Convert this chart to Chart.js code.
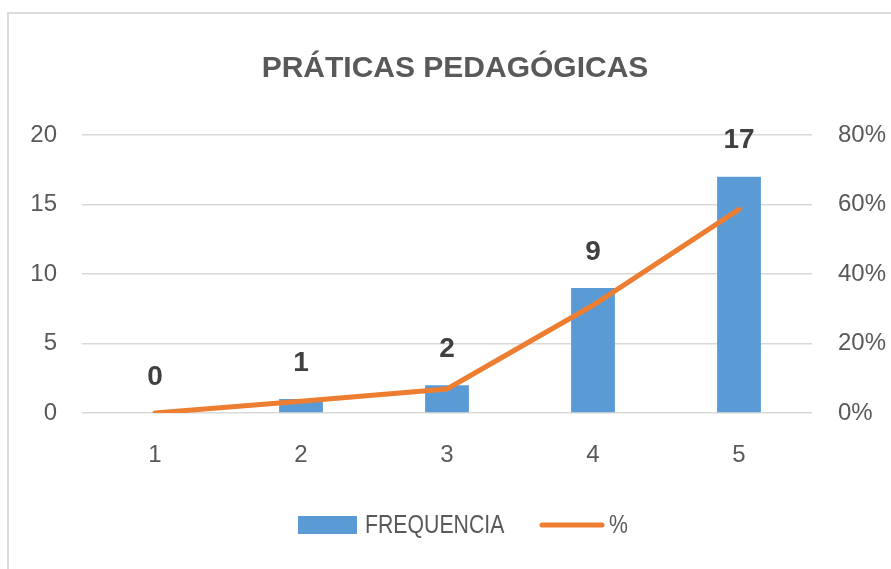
<!DOCTYPE html>
<html><head><meta charset="utf-8">
<script src="https://cdn.jsdelivr.net/npm/chart.js@4/dist/chart.umd.min.js"></script>
<style>
html,body{margin:0;padding:0;background:#fff;width:891px;height:569px;overflow:hidden;}
#frame{position:absolute;left:7px;top:12px;width:900px;height:600px;border-left:2px solid #dcdcdc;border-top:2px solid #dcdcdc;}
#wrap{position:absolute;left:0;top:0;width:891px;height:569px;}
</style></head>
<body>
<div id="frame"></div>
<div id="wrap"><canvas id="c" width="891" height="569"></canvas></div>
<script>
const categories = ['1','2','3','4','5'];
const frequencia = [0, 1, 2, 9, 17];
const percent = [0, 0.034, 0.069, 0.31, 0.586];
const titleText = 'PRÁTICAS PEDAGÓGICAS';
const seriesNames = ['FREQUENCIA', '%'];

const BLUE = '#5B9BD5', ORANGE = '#ED7D31', TXT = '#595959';
const FONT = "'Liberation Sans', Arial, sans-serif";

const extras = {
  id: 'extras',
  afterDatasetsDraw(chart) {
    const ctx = chart.ctx;
    const meta = chart.getDatasetMeta(1);
    ctx.save();
    ctx.fillStyle = '#404040';
    ctx.font = 'bold 28px ' + FONT;
    ctx.textAlign = 'center';
    ctx.textBaseline = 'middle';
    meta.data.forEach((el, i) => {
      ctx.fillText(String(frequencia[i]), el.x, el.y - 36);
    });
    ctx.restore();
  },
  afterDraw(chart) {
    const ctx = chart.ctx;
    ctx.save();
    // title
    ctx.fillStyle = TXT;
    ctx.font = 'bold 30px ' + FONT;
    ctx.textAlign = 'center';
    ctx.textBaseline = 'middle';
    ctx.fillText(titleText, 455, 69);
    // legend
    ctx.fillStyle = BLUE;
    ctx.fillRect(298, 516, 59, 18);
    ctx.fillStyle = TXT;
    ctx.font = '25px ' + FONT;
    ctx.textAlign = 'left';
    ctx.save();
    ctx.translate(365, 526);
    ctx.scale(0.85, 1);
    ctx.fillText(seriesNames[0], 0, 0);
    ctx.restore();
    ctx.strokeStyle = ORANGE;
    ctx.lineWidth = 5;
    ctx.lineCap = 'round';
    ctx.beginPath(); ctx.moveTo(542, 525); ctx.lineTo(602, 525); ctx.stroke();
    ctx.save();
    ctx.translate(609, 526);
    ctx.scale(0.85, 1);
    ctx.fillText(seriesNames[1], 0, 0);
    ctx.restore();
    ctx.restore();
  }
};

new Chart(document.getElementById('c'), {
  data: {
    labels: categories,
    datasets: [
      { type: 'line', label: seriesNames[1], data: percent, yAxisID: 'y2', borderColor: ORANGE, borderWidth: 5, pointRadius: 0, tension: 0, order: 0, borderCapStyle: 'round' },
      { type: 'bar', label: seriesNames[0], data: frequencia, yAxisID: 'y', backgroundColor: BLUE, barPercentage: 0.6, categoryPercentage: 0.5, order: 1 }
    ]
  },
  options: {
    responsive: false,
    animation: false,
    devicePixelRatio: 1,
    layout: { padding: { top: 135, bottom: 96, left: 0, right: 0 } },
    plugins: { legend: { display: false }, title: { display: false }, tooltip: { enabled: false } },
    scales: {
      x: {
        grid: { display: false, drawTicks: false },
        border: { display: false },
        ticks: { color: TXT, font: { family: FONT, size: 24 }, padding: 28 },
        afterFit(s) { s.height = 60; }
      },
      y: {
        position: 'left', min: 0, max: 20,
        ticks: { stepSize: 5, color: TXT, font: { family: FONT, size: 24 }, padding: 25 },
        grid: { color: '#d9d9d9', lineWidth: 1.5, drawTicks: false },
        border: { display: false },
        afterFit(s) { s.width = 82; }
      },
      y2: {
        position: 'right', min: 0, max: 0.8,
        ticks: { stepSize: 0.2, color: TXT, font: { family: FONT, size: 24 }, padding: 26, callback: v => Math.round(v * 100) + '%' },
        grid: { display: false, drawTicks: false },
        border: { display: false },
        afterFit(s) { s.width = 79; }
      }
    }
  },
  plugins: [extras]
});
</script>
</body></html>
